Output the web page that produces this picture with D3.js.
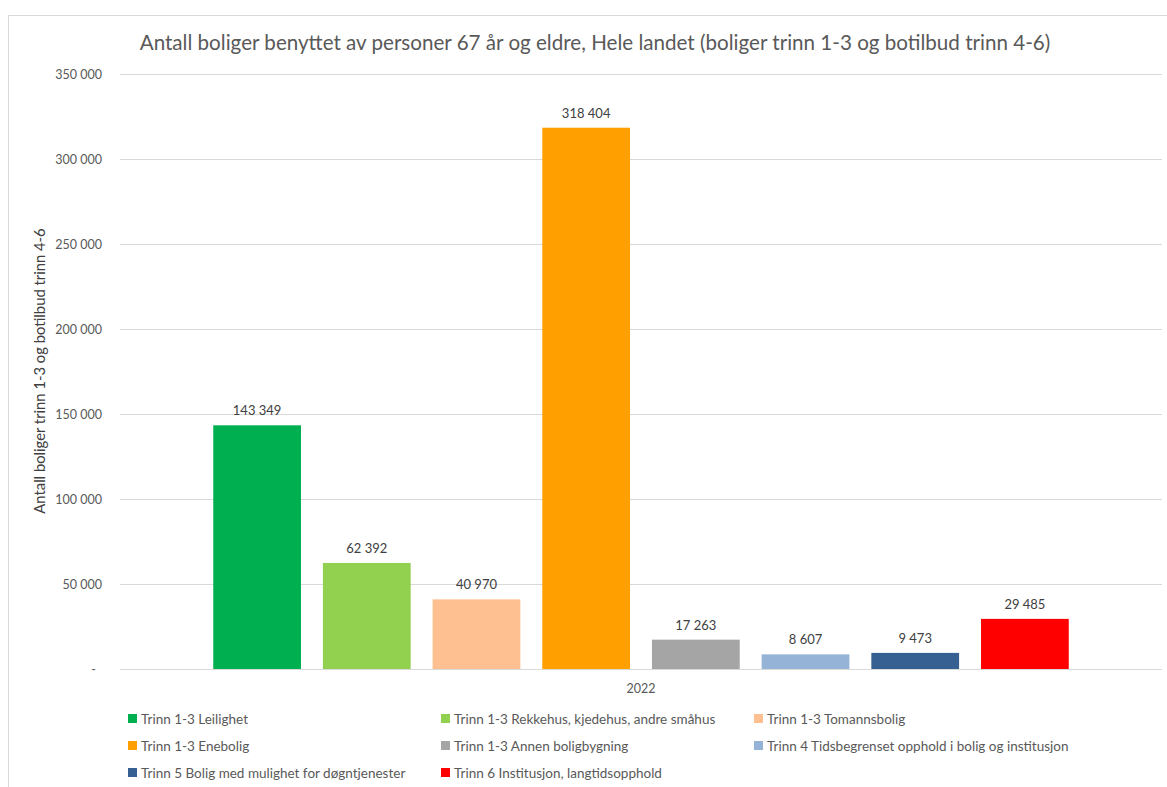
<!DOCTYPE html>
<html>
<head>
<meta charset="utf-8">
<script src="https://cdn.jsdelivr.net/npm/d3@7"></script>
<style>
  html, body { margin: 0; padding: 0; background: #fff; }
  svg { display: block; font-family: Lato, "Open Sans", sans-serif; }
</style>
</head>
<body>
<svg id="chart" width="1167" height="787"></svg>
<script>
// Series (one bar each) for the single category 2022
const seriesNames = [
  "Trinn 1-3 Leilighet",
  "Trinn 1-3 Rekkehus, kjedehus, andre småhus",
  "Trinn 1-3 Tomannsbolig",
  "Trinn 1-3 Enebolig",
  "Trinn 1-3 Annen boligbygning",
  "Trinn 4 Tidsbegrenset opphold i bolig og institusjon",
  "Trinn 5 Bolig med mulighet for døgntjenester",
  "Trinn 6 Institusjon, langtidsopphold"
];
const seriesValues = [143349, 62392, 40970, 318404, 17263, 8607, 9473, 29485];
const seriesColors = ["#00B050", "#92D050", "#FFC091", "#FF9F00", "#A5A5A5", "#95B3D7", "#366092", "#FF0000"];
const category = "2022";
const yTicks = [0, 50000, 100000, 150000, 200000, 250000, 300000, 350000];

const titleText = "Antall boliger benyttet av personer 67 år og eldre, Hele landet (boliger trinn 1-3 og botilbud trinn 4-6)";
const yAxisTitle = "Antall boliger trinn 1-3 og botilbud trinn 4-6";

const svg = d3.select("#chart");

// chart frame
svg.append("path")
  .attr("d", "M8.5,800 V15.5 H1180")
  .attr("fill", "none")
  .attr("stroke", "#d9d9d9")
  .attr("stroke-width", 1);

const plot = { left: 120, right: 1162, top: 74, bottom: 669 };

const y = d3.scaleLinear().domain([0, 350000]).range([plot.bottom, plot.top]);
const x = d3.scaleBand()
  .domain(seriesNames)
  .range([plot.left, plot.right])
  .paddingInner(0.2)
  .paddingOuter(0.85);

const spaced = v => d3.format(",")(v).replace(/,/g, " ");
const fmtTick = v => v === 0 ? "-" : spaced(v);

// gridlines
svg.append("g")
  .selectAll("line")
  .data(yTicks)
  .join("line")
  .attr("x1", plot.left)
  .attr("x2", plot.right)
  .attr("y1", d => Math.round(y(d)) + 0.5)
  .attr("y2", d => Math.round(y(d)) + 0.5)
  .attr("stroke", "#d9d9d9")
  .attr("stroke-width", 1);

// y tick labels
const yAxis = d3.axisLeft(y).tickValues(yTicks).tickSize(0).tickPadding(0).tickFormat(fmtTick);
const gy = svg.append("g").attr("transform", `translate(102,0)`).call(yAxis);
gy.select(".domain").remove();
gy.selectAll("text")
  .attr("font-family", "Lato, sans-serif")
  .attr("font-size", 12.5)
  .attr("fill", "#595959");
gy.selectAll(".tick").filter(d => d === 0).select("text").attr("dx", -6);

// bars
svg.append("g")
  .selectAll("rect")
  .data(seriesNames)
  .join("rect")
  .attr("x", d => x(d))
  .attr("width", x.bandwidth())
  .attr("y", (d, i) => y(seriesValues[i]))
  .attr("height", (d, i) => plot.bottom - y(seriesValues[i]))
  .attr("fill", (d, i) => seriesColors[i]);

// value labels
svg.append("g")
  .selectAll("text")
  .data(seriesNames)
  .join("text")
  .attr("x", d => x(d) + x.bandwidth() / 2)
  .attr("y", (d, i) => y(seriesValues[i]) - 10)
  .attr("text-anchor", "middle")
  .attr("font-size", 13)
  .attr("fill", "#404040")
  .text((d, i) => spaced(seriesValues[i]));

// category label
svg.append("text")
  .attr("x", (plot.left + plot.right) / 2)
  .attr("y", 693)
  .attr("text-anchor", "middle")
  .attr("font-size", 12.5)
  .attr("fill", "#595959")
  .text(category);

// title
svg.append("text")
  .attr("x", 595)
  .attr("y", 50)
  .attr("text-anchor", "middle")
  .attr("font-size", 20.6)
  .attr("fill", "#595959")
  .text(titleText);

// y axis title
svg.append("text")
  .attr("transform", "translate(45,371) rotate(-90)")
  .attr("text-anchor", "middle")
  .attr("font-size", 14.8)
  .attr("fill", "#404040")
  .text(yAxisTitle);

// legend: three columns, three rows
const legendCols = [128, 441, 754];
const legendRows = [719, 746, 773];
const legend = svg.append("g")
  .selectAll("g")
  .data(seriesNames)
  .join("g")
  .attr("transform", (d, i) => `translate(${legendCols[i % 3]},${legendRows[Math.floor(i / 3)]})`);
legend.append("rect")
  .attr("x", 0)
  .attr("y", -5)
  .attr("width", 9)
  .attr("height", 9)
  .attr("fill", (d, i) => seriesColors[i]);
legend.append("text")
  .attr("x", 13)
  .attr("y", 4.5)
  .attr("font-size", 13.5)
  .attr("fill", "#595959")
  .text(d => d);
</script>
</body>
</html>
